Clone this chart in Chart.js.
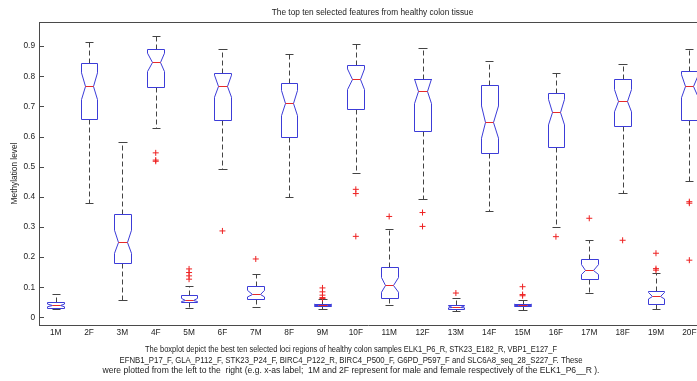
<!DOCTYPE html>
<html>
<head>
<meta charset="utf-8">
<title>The top ten selected features from healthy colon tissue</title>
<script src="https://cdn.jsdelivr.net/npm/chart.js@4/dist/chart.umd.min.js"></script>
<style>
  html, body { margin: 0; padding: 0; background: #ffffff; overflow: hidden; }
  #wrap { width: 697px; height: 381px; }
</style>
</head>
<body>
<div id="wrap"><canvas id="chart" width="697" height="381"></canvas></div>
<script>
// Sample groups: odd = male (M), even = female (F), one pair per locus
const groups = ['1M', '2F', '3M', '4F', '5M', '6F', '7M', '8F', '9M', '10F',
                '11M', '12F', '13M', '14F', '15M', '16F', '17M', '18F', '19M', '20F'];

// Box statistics of the methylation level per group
const whiskerLow  = [0.029, 0.378, 0.058, 0.627, 0.033, 0.491, 0.034, 0.398, 0.029, 0.478,
                     0.040, 0.393, 0.021, 0.353, 0.024, 0.301, 0.080, 0.412, 0.029, 0.451];
const quartile1   = [0.033, 0.657, 0.181, 0.763, 0.051, 0.655, 0.060, 0.600, 0.037, 0.691,
                     0.066, 0.617, 0.029, 0.544, 0.037, 0.564, 0.126, 0.634, 0.043, 0.655];
const medians     = [0.040, 0.767, 0.251, 0.846, 0.058, 0.767, 0.079, 0.711, 0.042, 0.790,
                     0.108, 0.750, 0.035, 0.648, 0.042, 0.681, 0.159, 0.719, 0.072, 0.767];
const quartile3   = [0.052, 0.845, 0.343, 0.892, 0.073, 0.810, 0.106, 0.777, 0.046, 0.836,
                     0.169, 0.790, 0.042, 0.770, 0.046, 0.743, 0.195, 0.790, 0.088, 0.816];
const whiskerHigh = [0.077, 0.915, 0.582, 0.935, 0.106, 0.890, 0.145, 0.875, 0.061, 0.907,
                     0.292, 0.893, 0.065, 0.850, 0.058, 0.812, 0.257, 0.841, 0.148, 0.892];

// Outliers beyond the whiskers, per group
const outliers = [
  [], [], [], [0.546, 0.522, 0.518], [0.161, 0.149, 0.138, 0.127],
  [0.287], [0.194], [], [0.098, 0.085, 0.074, 0.066, 0.063], [0.425, 0.411, 0.269],
  [0.335], [0.348, 0.302], [0.081], [], [0.102, 0.076, 0.072],
  [0.268], [0.329], [0.256], [0.213, 0.162, 0.157], [0.384, 0.379, 0.190]
];

// Samples per group (used for the median notch width)
const samplesPerGroup = 44;

const yTicks = [0, 0.1, 0.2, 0.3, 0.4, 0.5, 0.6, 0.7, 0.8, 0.9];
const yTickLabels = ['0', '0.1', '0.2', '0.3', '0.4', '0.5', '0.6', '0.7', '0.8', '0.9'];

const titleText = 'The top ten selected features from healthy colon tissue';
const captionLines = [
  'The boxplot depict the best ten selected loci regions of healthy colon samples ELK1_P6_R, STK23_E182_R, VBP1_E127_F',
  'EFNB1_P17_F, GLA_P112_F, STK23_P24_F, BIRC4_P122_R, BIRC4_P500_F, G6PD_P597_F and SLC6A8_seq_28_S227_F. These',
  'were plotted from the left to the  right (e.g. x-as label;  1M and 2F represent for male and female respectively of the ELK1_P6__R ).'
];

// Styling
const FONT_FAMILY = "'Liberation Sans', Arial, Helvetica, sans-serif";
const FONT_SIZE = 8.3;
const CAPTION_FONT_SIZE = 8.6;
const CAPTION_MAX_WIDTHS = [412, 463, 497];   // set width of each caption line
const CAPTION_CENTER_X = 351;
const CAPTION_FIRST_Y = 350;
const CAPTION_LINE_STEP = 10.5;
const TEXT_COLOR = '#1c1c1c';
const AXIS_COLOR = '#4a4a4a';
const BOX_COLOR = '#3c3cd8';
const MEDIAN_COLOR = '#e62a2a';
const WHISKER_COLOR = '#444444';
const OUTLIER_COLOR = '#ee2222';
const BOX_WIDTH = 0.5;   // in category units

const crisp = v => Math.round(v) + 0.5;

// Notched boxes, whiskers and caps drawn through the chart's scales
const notchedBoxes = {
  id: 'notchedBoxes',
  beforeDatasetsDraw(chart) {
    const { ctx, chartArea, scales: { x, y } } = chart;
    ctx.save();
    ctx.beginPath();
    ctx.rect(chartArea.left, chartArea.top, chartArea.width, chartArea.height);
    ctx.clip();
    ctx.lineWidth = 1;

    groups.forEach((g, i) => {
      const pos = i + 1;
      const cx = x.getPixelForValue(pos);
      const hw = x.getPixelForValue(pos + BOX_WIDTH / 2) - cx;
      const left = crisp(cx - hw), right = crisp(cx + hw);
      const innerL = crisp(cx - hw / 2), innerR = crisp(cx + hw / 2);
      const mid = crisp(cx);

      const notch = 1.57 * (quartile3[i] - quartile1[i]) / Math.sqrt(samplesPerGroup);
      const yQ1 = crisp(y.getPixelForValue(quartile1[i]));
      const yQ3 = crisp(y.getPixelForValue(quartile3[i]));
      const yMed = crisp(y.getPixelForValue(medians[i]));
      const yNotchLo = y.getPixelForValue(medians[i] - notch);
      const yNotchHi = y.getPixelForValue(medians[i] + notch);
      const yLo = crisp(y.getPixelForValue(whiskerLow[i]));
      const yHi = crisp(y.getPixelForValue(whiskerHigh[i]));

      // dashed whiskers
      ctx.strokeStyle = WHISKER_COLOR;
      ctx.setLineDash([5, 3]);
      ctx.beginPath();
      ctx.moveTo(mid, yQ3); ctx.lineTo(mid, yHi);
      ctx.moveTo(mid, yQ1); ctx.lineTo(mid, yLo);
      ctx.stroke();
      ctx.setLineDash([]);

      // whisker caps
      ctx.beginPath();
      ctx.moveTo(innerL, yHi); ctx.lineTo(innerR, yHi);
      ctx.moveTo(innerL, yLo); ctx.lineTo(innerR, yLo);
      ctx.stroke();

      // notched box
      ctx.fillStyle = '#ffffff';
      ctx.strokeStyle = BOX_COLOR;
      ctx.beginPath();
      ctx.moveTo(left, yQ1);
      ctx.lineTo(left, yNotchLo);
      ctx.lineTo(innerL, yMed);
      ctx.lineTo(left, yNotchHi);
      ctx.lineTo(left, yQ3);
      ctx.lineTo(right, yQ3);
      ctx.lineTo(right, yNotchHi);
      ctx.lineTo(innerR, yMed);
      ctx.lineTo(right, yNotchLo);
      ctx.lineTo(right, yQ1);
      ctx.closePath();
      ctx.fill();
      ctx.stroke();

      // median
      ctx.strokeStyle = MEDIAN_COLOR;
      ctx.beginPath();
      ctx.moveTo(innerL, yMed); ctx.lineTo(innerR, yMed);
      ctx.stroke();
    });
    ctx.restore();
  },
  afterDraw(chart) {
    const { ctx, chartArea, scales: { x, y } } = chart;
    ctx.save();
    // frame top edge and inward y ticks
    ctx.strokeStyle = AXIS_COLOR;
    ctx.lineWidth = 1;
    ctx.beginPath();
    ctx.moveTo(chartArea.left, crisp(chartArea.top));
    ctx.lineTo(chartArea.right, crisp(chartArea.top));
    yTicks.forEach(v => {
      const py = crisp(y.getPixelForValue(v));
      ctx.moveTo(chartArea.left, py);
      ctx.lineTo(chartArea.left + 5, py);
    });
    ctx.stroke();

    // title centred over the axes
    const cx = (x.getPixelForValue(0.5) + x.getPixelForValue(groups.length + 0.5)) / 2;
    ctx.fillStyle = TEXT_COLOR;
    ctx.font = `${FONT_SIZE}px ${FONT_FAMILY}`;
    ctx.textAlign = 'center';
    ctx.textBaseline = 'middle';
    ctx.fillText(titleText, cx, 13);

    // caption below the axis labels
    ctx.font = `${CAPTION_FONT_SIZE}px ${FONT_FAMILY}`;
    captionLines.forEach((line, i) => {
      ctx.fillText(line, CAPTION_CENTER_X, CAPTION_FIRST_Y + i * CAPTION_LINE_STEP, CAPTION_MAX_WIDTHS[i]);
    });
    ctx.restore();
  }
};

// Outlier points
const outlierPoints = [];
outliers.forEach((list, i) => list.forEach(v => outlierPoints.push({ x: i + 1, y: v })));

Chart.defaults.font.family = FONT_FAMILY;
Chart.defaults.font.size = FONT_SIZE;
Chart.defaults.color = TEXT_COLOR;

new Chart(document.getElementById('chart'), {
  type: 'scatter',
  data: {
    datasets: [{
      label: 'Outliers',
      data: outlierPoints,
      pointStyle: 'cross',
      pointRadius: 3,
      pointHoverRadius: 3,
      borderColor: OUTLIER_COLOR,
      backgroundColor: OUTLIER_COLOR,
      borderWidth: 1
    }]
  },
  options: {
    responsive: false,
    devicePixelRatio: 1,
    animation: false,
    events: [],
    layout: { autoPadding: false, padding: { top: 22, left: 0, right: 0, bottom: 38 } },
    plugins: {
      legend: { display: false },
      tooltip: { enabled: false },
      title: { display: false }
    },
    scales: {
      x: {
        type: 'linear',
        min: 0.5,
        max: 20.23,
        grid: { display: false, drawTicks: false },
        border: { display: true, color: AXIS_COLOR, width: 1 },
        afterBuildTicks: scale => { scale.ticks = groups.map((g, i) => ({ value: i + 1 })); },
        afterFit: scale => {
          scale.height = 18;
          scale.paddingLeft = 0;
          scale.paddingRight = 0;
        },
        ticks: {
          autoSkip: false,
          maxRotation: 0,
          padding: 3,
          callback: value => groups[Math.round(value) - 1] || ''
        }
      },
      y: {
        min: -0.025,
        max: 0.98,
        grid: { display: false, drawTicks: false },
        border: { display: true, color: AXIS_COLOR, width: 1 },
        afterBuildTicks: scale => { scale.ticks = yTicks.map(v => ({ value: v })); },
        afterFit: scale => {
          scale.width = 39;
          scale.paddingTop = 0;
          scale.paddingBottom = 0;
        },
        ticks: {
          autoSkip: false,
          padding: 4,
          callback: (value, index) => yTickLabels[index]
        },
        title: {
          display: true,
          text: 'Methylation level',
          padding: { top: 10, bottom: 0 }
        }
      }
    }
  },
  plugins: [notchedBoxes]
});
</script>
</body>
</html>
